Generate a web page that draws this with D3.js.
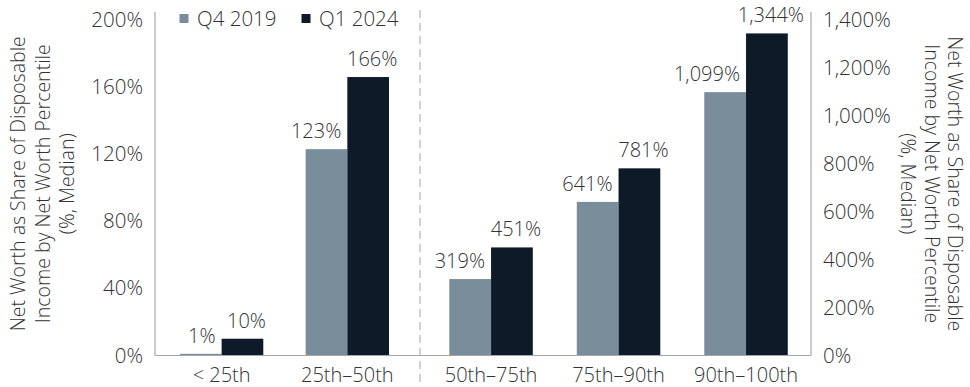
<!DOCTYPE html>
<html>
<head>
<meta charset="utf-8">
<script src="https://cdn.jsdelivr.net/npm/d3@7"></script>
<style>
  html, body { margin: 0; padding: 0; background: #fff; }
  svg { display: block; font-family: "Open Sans", sans-serif; font-weight: 300; }
</style>
</head>
<body>
<svg id="chart" width="970" height="387"></svg>
<script>
// ---- data ----
const categoriesLeft = ["< 25th", "25th\u201350th"];
const categoriesRight = ["50th\u201375th", "75th\u201390th", "90th\u2013100th"];
const seriesNames = ["Q4 2019", "Q1 2024"];
const q4_2019 = [1, 123, 319, 641, 1099];
const q1_2024 = [10, 166, 451, 781, 1344];
const leftTicks = [0, 40, 80, 120, 160, 200];
const rightTicks = [0, 200, 400, 600, 800, 1000, 1200, 1400];
const titleLines = ["Net Worth as Share of Disposable", "Income by Net Worth Percentile", "(%, Median)"];

// ---- styles ----
const colors = ["#7a8d9b", "#0e1a28"];
const textColor = "#333333";
const axisColor = "#a6a6a6";

const svg = d3.select("#chart");
const xL = 155, xR = 811, xMid = 420, yTop = 20, yBase = 355.5;

const yLeft = d3.scaleLinear().domain([0, 200]).range([yBase, yTop]);
const yRight = d3.scaleLinear().domain([0, 1400]).range([yBase, yTop]);

const xLeft = d3.scaleBand().domain(categoriesLeft).range([xL, xMid])
  .paddingInner(0.337).paddingOuter(0.2225).align(0.446);
const xRight = d3.scaleBand().domain(categoriesRight).range([xMid, xR])
  .paddingInner(0.345).paddingOuter(0.206).align(0.558);

const allCats = categoriesLeft.concat(categoriesRight);
const rows = allCats.map((c, i) => ({
  cat: c,
  left: i < categoriesLeft.length,
  vals: [q4_2019[i], q1_2024[i]]
}));

// ---- axes ----
const axL = svg.append("g").attr("transform", `translate(${xL},0)`)
  .call(d3.axisLeft(yLeft).tickValues(leftTicks).tickSize(0).tickPadding(12).tickFormat(d => d + "%"));
const axR = svg.append("g").attr("transform", `translate(${xR},0)`)
  .call(d3.axisRight(yRight).tickValues(rightTicks).tickSize(0).tickPadding(12).tickFormat(d => d3.format(",")(d) + "%"));
[axL, axR].forEach(g => {
  g.select(".domain").remove();
  g.selectAll("text").attr("font-size", 20.5).attr("fill", textColor)
    .attr("font-family", "Open Sans").attr("font-weight", 300);
});

// divider
svg.append("line").attr("x1", xMid).attr("x2", xMid).attr("y1", 10).attr("y2", 387)
  .attr("stroke", "#b5b5b5").attr("stroke-width", 1.2).attr("stroke-dasharray", "8,5");

// ---- bars ----
rows.forEach(r => {
  const xs = r.left ? xLeft : xRight;
  const ys = r.left ? yLeft : yRight;
  const x1 = d3.scaleBand().domain(seriesNames).range([0, xs.bandwidth()]);
  const g = svg.append("g").attr("transform", `translate(${xs(r.cat)},0)`);
  r.vals.forEach((v, j) => {
    g.append("rect")
      .attr("x", x1(seriesNames[j]))
      .attr("y", ys(v))
      .attr("width", x1.bandwidth())
      .attr("height", yBase - ys(v))
      .attr("fill", colors[j]);
    const lbl = g.append("text")
      .attr("y", ys(v) - 11)
      .attr("font-size", 20)
      .attr("fill", textColor)
      .text(d3.format(",")(v) + "%");
    if (j === 0) {
      lbl.attr("x", x1(seriesNames[j]) + x1.bandwidth() - 6).attr("text-anchor", "end");
    } else {
      lbl.attr("x", x1(seriesNames[j]) + x1.bandwidth() / 2 + 4).attr("text-anchor", "middle");
    }
  });
  svg.append("text")
    .attr("x", xs(r.cat) + xs.bandwidth() / 2)
    .attr("y", 381.5)
    .attr("font-size", 20)
    .attr("fill", textColor)
    .attr("text-anchor", "middle")
    .text(r.cat);
});

// axis lines
svg.append("line").attr("x1", xL).attr("x2", xR).attr("y1", yBase).attr("y2", yBase)
  .attr("stroke", axisColor).attr("stroke-width", 1.2);
svg.append("line").attr("x1", xL).attr("x2", xL).attr("y1", 12).attr("y2", yBase)
  .attr("stroke", axisColor).attr("stroke-width", 1.2);
svg.append("line").attr("x1", xR).attr("x2", xR).attr("y1", 12).attr("y2", yBase)
  .attr("stroke", axisColor).attr("stroke-width", 1.2);

// ---- titles ----
const cy = (12 + yBase) / 2;
const leftX = [18.3, 42.7, 66.7];
titleLines.forEach((t, i) => {
  svg.append("text")
    .attr("transform", `translate(${leftX[i]},${cy}) rotate(-90)`)
    .attr("dy", "0.35em").attr("text-anchor", "middle")
    .attr("font-size", 19.5).attr("fill", textColor).text(t);
});
const rightX = [955, 931.5, 908];
titleLines.forEach((t, i) => {
  svg.append("text")
    .attr("transform", `translate(${rightX[i]},${cy}) rotate(90)`)
    .attr("dy", "0.35em").attr("text-anchor", "middle")
    .attr("font-size", 19.5).attr("fill", textColor).text(t);
});

// ---- legend ----
const legendX = [179.5, 301.5];
seriesNames.forEach((s, i) => {
  svg.append("rect").attr("x", legendX[i]).attr("y", 14).attr("width", 9).attr("height", 9)
    .attr("fill", colors[i]);
  svg.append("text").attr("x", legendX[i] + 17.5).attr("y", 18.5).attr("dy", "0.35em")
    .attr("font-size", 20.5).attr("fill", textColor).text(s);
});
</script>
</body>
</html>
